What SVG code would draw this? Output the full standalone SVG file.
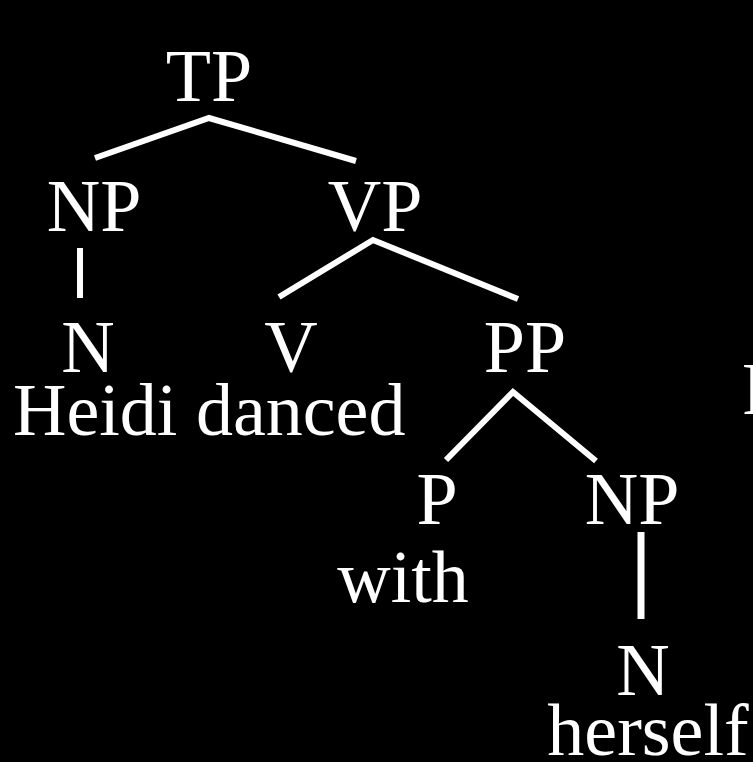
<svg xmlns="http://www.w3.org/2000/svg" width="753" height="762" viewBox="0 0 753 762">
<style>
text{font-family:"Liberation Serif","Times New Roman",serif;font-size:74px;fill:#fff}
.c{text-anchor:middle}
.e{stroke:#fff;stroke-width:6;fill:none;stroke-linecap:butt;stroke-linejoin:miter}
</style>
<rect width="753" height="762" fill="#000"/>
<g id="connectors">
<polyline class="e" points="95,158 209,118 356,161"/>
<line class="e" x1="80" y1="248" x2="80" y2="298"/>
<polyline class="e" points="279,297 373,240 518,299"/>
<polyline class="e" points="446,460 513,392 596,461"/>
<line class="e" x1="641" y1="532" x2="641" y2="619" style="stroke-width:7"/>
</g>
<g id="TP"><text class="c" x="209" y="101">TP</text></g>
<g id="NP1"><text class="c" x="94" y="231">NP</text></g>
<g id="VP"><text class="c" x="375" y="231">VP</text></g>
<g id="N1"><text class="c" x="88" y="372">N</text></g>
<g id="V"><text class="c" x="291" y="372">V</text></g>
<g id="PP"><text class="c" x="525" y="372">PP</text></g>
<g id="words1"><text x="13" y="435">Heidi danced</text></g>
<g id="P"><text class="c" x="437" y="524">P</text></g>
<g id="NP2"><text class="c" x="632" y="524">NP</text></g>
<g id="with"><text class="c" x="403" y="602">with</text></g>
<g id="N2"><text class="c" x="643" y="695">N</text></g>
<g id="herself"><text class="c" x="648" y="755">herself</text></g>
<g id="clipped"><text x="742" y="414">P</text></g>
</svg>
